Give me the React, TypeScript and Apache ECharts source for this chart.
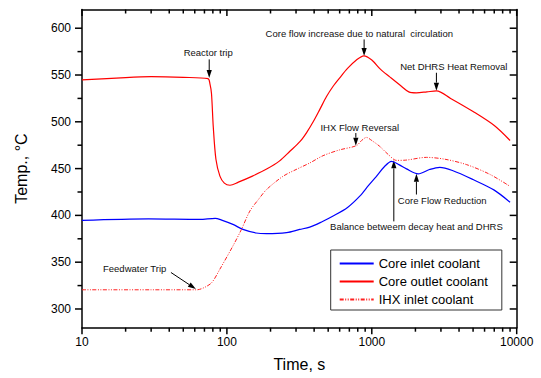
import React, { useEffect, useRef } from "react";
import * as echarts from "echarts";

// time (s), temperature (°C)
const coreInlet: [number, number][] = [
  [10, 394.7], [28.8, 396.3], [65, 395.7], [83, 396.9], [92, 395], [110, 390.4],
  [129, 385], [159, 381.2], [188, 380.5], [258, 381.6], [318, 385], [373, 387.5], [450, 393],
  [541, 399.3], [680, 408.5], [826, 420.6], [950, 432], [1077, 441.8], [1220, 452],
  [1367, 457.8], [1550, 454], [1735, 449.7], [2089, 444.4], [2500, 449], [2944, 451.4],
  [3600, 448], [5000, 438.3], [7000, 427], [9000, 414],
];

const coreOutlet: [number, number][] = [
  [10, 544.7], [20, 547.3], [30, 548.2], [50, 547.5], [74, 546.1], [76.5, 540],
  [78.3, 530], [80.5, 495], [84, 460], [89.5, 442], [96, 434.5], [105, 432.2],
  [120, 435.5], [150, 442], [188, 449.5], [230, 458], [272, 468.5], [320, 479], [355, 488.5],
  [394, 500], [437, 513], [487, 527], [541, 538], [601, 547], [680, 557], [783, 566],
  [881, 570.5], [1000, 566], [1150, 556], [1330, 548], [1600, 538], [1800, 532],
  [2032, 531], [2400, 532], [2792, 533], [3500, 525], [5000, 511], [7000, 496], [9000, 480],
];

const ihxInlet: [number, number][] = [
  [10, 320.5], [30, 320.5], [62, 320.5], [70, 323], [78.8, 328.4], [89.5, 342.6],
  [110, 367.3], [126, 385], [144, 404.6], [165, 417], [188, 427.7], [244, 441.8],
  [300, 449], [373, 456], [461, 463.8], [600, 470], [783, 474.5], [850, 480],
  [918, 483.3], [1000, 480], [1135, 473.7], [1300, 465], [1479, 458.8], [1700, 459],
  [2382, 462], [3200, 460], [4500, 454.3], [6500, 444], [9000, 431],
];

const xMajorTicks = [10, 100, 1000, 10000];
const xMinorTicks = [20, 30, 40, 50, 60, 70, 80, 90, 200, 300, 400, 500, 600, 700, 800, 900,
  2000, 3000, 4000, 5000, 6000, 7000, 8000, 9000];
const yMajorTicks = [300, 350, 400, 450, 500, 550, 600];
const yMinorTicks = [325, 375, 425, 475, 525, 575];

const seriesNames = ["Core inlet coolant", "Core outlet coolant", "IHX inlet coolant"];

// label, text position [t, v], arrow from [t, v], arrow to [t, v]
const annotations: { label: string; text: [number, number]; from: [number, number]; to: [number, number] }[] = [
  { label: "Reactor trip", text: [74.3, 573.7], from: [75.5, 566.7], to: [75.5, 546.8] },
  { label: "Core flow increase due to natural  circulation", text: [820, 594.4], from: [885, 588], to: [885, 570.2] },
  { label: "Net DHRS Heat Removal", text: [3681, 558.8], from: [2792, 552.4], to: [2792, 533.3] },
  { label: "IHX Flow Reversal", text: [826, 494], from: [776, 488], to: [776, 474.5] },
  { label: "Core Flow Reduction", text: [3062, 416.3], from: [2032, 422.3], to: [2032, 444.4] },
  { label: "Balance betweem decay heat and DHRS", text: [2032, 388], from: [1419, 393.6], to: [1419, 458.8] },
  { label: "Feedwater Trip", text: [23.1, 343.6], from: [41.1, 339], to: [61.1, 321.3] },
];

const FONT = "'Liberation Sans', Arial, Helvetica, sans-serif";
const Y_MIN = 280;
const Y_MAX = 620;
const X_MIN = 10;
const X_MAX = 10000;

export default function App() {
  const ref = useRef<HTMLDivElement>(null);
  useEffect(() => {
    if (!ref.current) return;
    const chart = echarts.init(ref.current, undefined, { renderer: "svg" });
    const axisLine = { show: true, onZero: false, lineStyle: { color: "#000", width: 1.5 } };
    const xBase = { type: "log" as const, logBase: 10, min: X_MIN, max: X_MAX, splitLine: { show: false }, axisTick: { show: false } };
    const yBase = { type: "value" as const, min: Y_MIN, max: Y_MAX, splitLine: { show: false }, axisTick: { show: false } };

    chart.setOption({
      animation: false,
      grid: { left: 82, right: 24.3, top: 9.5, bottom: 50.3 },
      legend: {
        orient: "vertical",
        left: 330.7,
        top: 250,
        data: seriesNames,
        itemWidth: 34,
        itemHeight: 14,
        itemGap: 5,
        padding: [7, 14, 4, 8],
        borderColor: "#333",
        borderWidth: 1,
        itemStyle: { opacity: 0 },
        textStyle: { fontSize: 13, color: "#000", fontFamily: FONT },
      },
      xAxis: [
        {
          ...xBase, position: "bottom", axisLine,
          axisLabel: {
            show: true, customValues: xMajorTicks, fontSize: 12, color: "#000", fontFamily: FONT, margin: 8,
            formatter: (v: number) => String(Math.round(v)),
          },
          name: "Time, s", nameLocation: "middle", nameGap: 29,
          nameTextStyle: { fontSize: 16, color: "#000", fontFamily: FONT },
        },
        { ...xBase, position: "top", axisLine, axisLabel: { show: false } },
      ],
      yAxis: [
        {
          ...yBase, position: "left", axisLine,
          axisLabel: { show: true, customValues: yMajorTicks, fontSize: 12, color: "#000", fontFamily: FONT, margin: 11 },
          name: "Temp., °C", nameLocation: "middle", nameGap: 53,
          nameTextStyle: { fontSize: 16, color: "#000", fontFamily: FONT },
        },
        { ...yBase, position: "right", axisLine, axisLabel: { show: false } },
      ],
      series: [
        {
          name: seriesNames[0], type: "line", data: coreInlet, xAxisIndex: 0, yAxisIndex: 0,
          symbol: "none", smooth: 0.3, color: "#0000ff", lineStyle: { color: "#0000ff", width: 1.2 },
        },
        {
          name: seriesNames[1], type: "line", data: coreOutlet, xAxisIndex: 0, yAxisIndex: 0,
          symbol: "none", smooth: 0.3, color: "#ff0000", lineStyle: { color: "#ff0000", width: 1.2 },
        },
        {
          name: seriesNames[2], type: "line", data: ihxInlet, xAxisIndex: 0, yAxisIndex: 0,
          symbol: "none", smooth: 0.3, color: "#ff2020",
          lineStyle: { color: "#ff2020", width: 1, type: [4, 1.5, 1, 1.5, 1, 1.5] },
        },
      ],
    });

    const toPx = (p: [number, number]) =>
      chart.convertToPixel({ xAxisIndex: 0, yAxisIndex: 0 }, p) as number[];
    const elements: any[] = [];

    // axis ticks (positions from the axes' own scales)
    const bl = toPx([X_MIN, Y_MIN]);
    const tr = toPx([X_MAX, Y_MAX]);
    const tickStyle = { stroke: "#000", lineWidth: 1.5 };
    const addXTick = (t: number, len: number) => {
      const px = toPx([t, Y_MIN])[0];
      elements.push({ type: "line", silent: true, shape: { x1: px, y1: bl[1], x2: px, y2: bl[1] + len }, style: tickStyle });
      elements.push({ type: "line", silent: true, shape: { x1: px, y1: tr[1], x2: px, y2: tr[1] + len }, style: tickStyle });
    };
    const addYTick = (v: number, len: number) => {
      const py = toPx([X_MIN, v])[1];
      elements.push({ type: "line", silent: true, shape: { x1: bl[0] - len, y1: py, x2: bl[0], y2: py }, style: tickStyle });
      elements.push({ type: "line", silent: true, shape: { x1: tr[0] - len, y1: py, x2: tr[0], y2: py }, style: tickStyle });
    };
    xMajorTicks.forEach((t) => addXTick(t, 6.5));
    xMinorTicks.forEach((t) => addXTick(t, 4));
    yMajorTicks.forEach((v) => addYTick(v, 7));
    yMinorTicks.forEach((v) => addYTick(v, 4.5));

    annotations.forEach((a) => {
      const tp = toPx(a.text);
      const f = toPx(a.from);
      const t = toPx(a.to);
      elements.push({
        type: "text", x: tp[0], y: tp[1], silent: true,
        style: { text: a.label, fontSize: 9.5, fontFamily: FONT, fill: "#111", align: "center", verticalAlign: "middle" },
      });
      const dx = t[0] - f[0];
      const dy = t[1] - f[1];
      const len = Math.sqrt(dx * dx + dy * dy) || 1;
      const ux = dx / len, uy = dy / len;
      const hl = 8, hw = 2.6;
      const bx = t[0] - ux * hl, by = t[1] - uy * hl;
      elements.push({
        type: "line", silent: true,
        shape: { x1: f[0], y1: f[1], x2: bx, y2: by },
        style: { stroke: "#000", lineWidth: 1 },
      });
      elements.push({
        type: "polygon", silent: true,
        shape: { points: [[t[0], t[1]], [bx - uy * hw, by + ux * hw], [bx + uy * hw, by - ux * hw]] },
        style: { fill: "#000" },
      });
    });
    chart.setOption({ graphic: elements });

    return () => chart.dispose();
  }, []);
  return (
    <div
      ref={ref}
      style={{ position: "fixed", left: 0, top: 0, width: 541, height: 378, background: "#fff" }}
    />
  );
}
